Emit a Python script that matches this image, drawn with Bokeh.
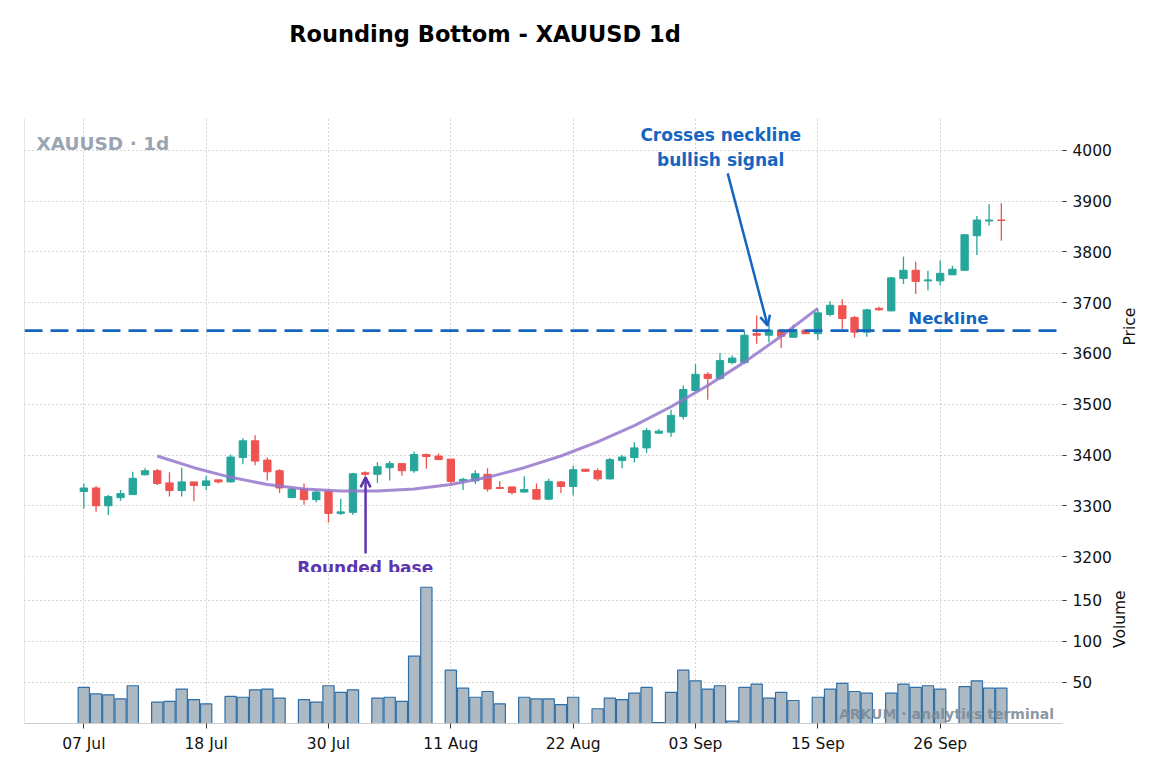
import math
from bokeh.plotting import figure
from bokeh.layouts import column
from bokeh.models import Span, Label, Arrow, OpenHead, FixedTicker, Range1d, Div
from bokeh.embed import file_html
from bokeh.resources import INLINE
from bokeh.core.properties import value

# daily candles, 6 bars per week (Sunday bar has ~no volume)
opens = [3328, 3335, 3300, 3316, 3322, 3361, 3369, 3345, 3330, 3347, 3340, 3351,
         3347, 3395, 3428, 3390, 3369, 3316, 3333, 3312, 3328, 3285, 3287, 3365,
         3362, 3375, 3383, 3369, 3401, 3398, 3392, 3349, 3349, 3362, 3336, 3337,
         3327, 3332, 3313, 3347, 3338, 3372, 3369, 3353, 3389, 3395, 3414, 3443,
         3445, 3476, 3527, 3559, 3551, 3582, 3582, 3639, 3636, 3646, 3632, 3646,
         3639, 3677, 3694, 3671, 3642, 3689, 3684, 3748, 3764, 3743, 3743, 3755,
         3764, 3832, 3861, 3863]
highs = [3344, 3339, 3321, 3331, 3367, 3374, 3373, 3366, 3375, 3347, 3359, 3351,
         3401, 3433, 3439, 3395, 3372, 3335, 3344, 3331, 3331, 3314, 3365, 3368,
         3386, 3388, 3384, 3407, 3403, 3403, 3392, 3355, 3370, 3374, 3349, 3338,
         3358, 3344, 3353, 3349, 3379, 3372, 3374, 3394, 3400, 3425, 3453, 3451,
         3489, 3537, 3579, 3563, 3601, 3596, 3644, 3675, 3659, 3647, 3657, 3646,
         3687, 3703, 3707, 3674, 3688, 3692, 3750, 3791, 3781, 3763, 3783, 3773,
         3835, 3871, 3894, 3896]
lows = [3294, 3288, 3282, 3310, 3322, 3360, 3341, 3318, 3318, 3309, 3331, 3344,
        3346, 3382, 3380, 3350, 3325, 3316, 3302, 3307, 3267, 3282, 3282, 3357,
        3345, 3350, 3359, 3365, 3373, 3390, 3343, 3331, 3343, 3328, 3333, 3322,
        3326, 3312, 3311, 3325, 3320, 3367, 3349, 3351, 3374, 3385, 3404, 3442,
        3436, 3470, 3525, 3509, 3548, 3579, 3579, 3619, 3622, 3611, 3631, 3638,
        3627, 3673, 3648, 3631, 3633, 3684, 3683, 3737, 3717, 3724, 3734, 3755,
        3764, 3794, 3852, 3822]
closes = [3335, 3300, 3318, 3324, 3354, 3369, 3344, 3330, 3347, 3340, 3349, 3347,
          3396, 3428, 3388, 3367, 3335, 3333, 3312, 3327, 3285, 3288, 3363, 3362,
          3377, 3383, 3369, 3401, 3397, 3391, 3348, 3352, 3363, 3333, 3334, 3326,
          3332, 3313, 3348, 3338, 3371, 3368, 3353, 3391, 3396, 3414, 3448, 3447,
          3478, 3529, 3559, 3551, 3586, 3591, 3636, 3636, 3646, 3634, 3647, 3639,
          3680, 3695, 3669, 3642, 3686, 3686, 3749, 3764, 3742, 3745, 3758, 3766,
          3834, 3863, 3863, 3862]
volumes = [44, 36, 35, 30, 46, 0, 26, 27, 42, 29, 24, 0,
           33, 32, 41, 42, 31, 0, 29, 26, 46, 38, 41, 0,
           31, 32, 27, 82, 166, 0, 65, 43, 32, 39, 24, 0,
           32, 30, 30, 23, 32, 0, 18, 31, 29, 37, 44, 1,
           38, 65, 52, 42, 46, 3, 44, 48, 31, 38, 28, 0,
           32, 42, 49, 39, 37, 0, 37, 48, 44, 46, 42, 0,
           45, 52, 43, 43]

tick_labels = ["07 Jul", "18 Jul", "30 Jul", "11 Aug", "22 Aug", "03 Sep", "15 Sep", "26 Sep"]
price_ticks = [3200, 3300, 3400, 3500, 3600, 3700, 3800, 3900, 4000]
volume_ticks = [50, 100, 150]

neckline = 3645
# fitted rounding curve
curve_x = [6, 9, 12, 15, 18, 21, 24, 27, 30, 33, 36, 39, 42, 45, 48, 51, 54, 57, 60]
curve_y = [3398, 3375, 3356, 3342, 3333, 3329, 3329, 3333, 3342, 3356, 3375, 3398,
           3426, 3458, 3495, 3537, 3583, 3634, 3689]

GREEN = "#26a69a"
RED = "#ef5350"
BLUE = "#1565c0"
PURPLE = "#5e35b1"
FONT = "DejaVu Sans"

n = len(opens)
idx = list(range(n))
colors = [GREEN if c >= o else RED for o, c in zip(opens, closes)]
body_top = [max(o, c) for o, c in zip(opens, closes)]
body_bot = [min(o, c) for o, c in zip(opens, closes)]
tick_pos = list(range(0, n, 10))[:len(tick_labels)]

x_lo, x_hi = -4.85, 80.0
p_lo, p_hi = 3168.5, 4063
xr = Range1d(x_lo, x_hi)


def style(fig):
    fig.outline_line_color = None
    fig.background_fill_color = "white"
    fig.border_fill_color = "white"
    fig.grid.grid_line_color = "#a8a8a8"
    fig.grid.grid_line_dash = "1 3"
    fig.grid.grid_line_width = 1
    fig.xgrid.ticker = FixedTicker(ticks=tick_pos)
    ax = fig.yaxis[0]
    ax.axis_line_color = None
    ax.major_tick_in = 0
    ax.major_tick_out = 4
    ax.major_tick_line_color = "#333333"
    ax.minor_tick_line_color = None
    ax.major_label_text_font = FONT
    ax.major_label_text_font_size = "15.5px"
    ax.major_label_text_color = "#111111"
    ax.major_label_standoff = 6
    ax.axis_label_text_font = FONT
    ax.axis_label_text_font_size = "15.5px"
    ax.axis_label_text_font_style = "normal"
    ax.axis_label_text_color = "#111111"
    ax.axis_label_standoff = 15
    ax.axis_label_orientation = math.pi / 2
    fig.add_layout(Span(location=x_lo, dimension="height", line_color="#cccccc", line_width=1))


# ---- title strip
title = Div(text="Rounding Bottom - XAUUSD 1d", width=960, height=60,
            styles={"font-family": FONT, "font-size": "22.5px", "font-weight": "bold",
                    "color": "black", "text-align": "center", "line-height": "26px",
                    "padding-top": "16px", "box-sizing": "border-box"})

# ---- price panel
p = figure(frame_width=1038, frame_height=454, x_range=xr, y_range=Range1d(p_lo, p_hi),
           output_backend="svg", toolbar_location=None, y_axis_location="right",
           x_axis_location=None, min_border_left=24, min_border_right=86,
           min_border_top=48, min_border_bottom=0)
style(p)
p.yaxis.ticker = FixedTicker(ticks=price_ticks)
p.yaxis.axis_label = "Price"
p.add_layout(Span(location=p_lo, dimension="width", line_color="#e6e6e6", line_width=1))

p.segment(idx, highs, idx, lows, color=colors, line_width=1.3)
p.vbar(x=idx, width=0.6, top=body_top, bottom=body_bot, fill_color=colors,
       line_color=colors, line_width=1)

p.add_layout(Span(location=neckline, dimension="width", line_color=BLUE,
                  line_width=2.8, line_dash="18 8"))
p.line(curve_x, curve_y, color="#9575cd", line_width=3, alpha=0.85)

p.text(x=[67.4], y=[3669], text=["Neckline"], text_align="left", text_baseline="middle",
       text_font=value(FONT), text_font_style="bold", text_font_size="16.5px", text_color=BLUE)
p.text(x=[52.06], y=[3962], text=["Crosses neckline\nbullish signal"], text_align="center",
       text_baseline="bottom", text_font=value(FONT), text_font_style="bold",
       text_font_size="17px", text_color=BLUE, text_line_height=1.22)
p.add_layout(Arrow(end=OpenHead(size=10, line_color=BLUE, line_width=2.5),
                   x_start=52.63, y_start=3955, x_end=55.9, y_end=3655,
                   line_color=BLUE, line_width=2.5))
p.text(x=[23.0], y=[3177], text=["Rounded base"], text_align="center", text_baseline="middle",
       text_font=value(FONT), text_font_style="bold", text_font_size="17px", text_color=PURPLE)
p.add_layout(Arrow(end=OpenHead(size=10, line_color=PURPLE, line_width=2.5),
                   x_start=23.03, y_start=3206, x_end=23.03, y_end=3356,
                   line_color=PURPLE, line_width=2.5))
p.add_layout(Label(x=-3.87, y=4014, text="XAUUSD · 1d", text_baseline="middle",
                   text_font=FONT, text_font_style="bold", text_font_size="18.5px",
                   text_color="#9aa5b1"))

# ---- volume panel
v = figure(frame_width=1038, frame_height=151, x_range=xr, y_range=Range1d(0, 184),
           output_backend="svg", toolbar_location=None, y_axis_location="right",
           min_border_left=24, min_border_right=86, min_border_top=0, min_border_bottom=10)
style(v)
v.yaxis.ticker = FixedTicker(ticks=volume_ticks)
v.yaxis.axis_label = "Volume"
v.vbar(x=idx, top=volumes, width=0.92, fill_color="#adbac4", line_color="#2e6fa7", line_width=1.2)

xa = v.xaxis[0]
xa.ticker = FixedTicker(ticks=tick_pos)
xa.major_label_overrides = {t: lab for t, lab in zip(tick_pos, tick_labels)}
xa.axis_line_color = "#cccccc"
xa.major_tick_in = 0
xa.major_tick_out = 5
xa.major_tick_line_color = "#333333"
xa.minor_tick_line_color = None
xa.major_label_text_font = FONT
xa.major_label_text_font_size = "15.5px"
xa.major_label_text_color = "#111111"
xa.major_label_standoff = 6

v.add_layout(Label(x=79.3, y=12, text="ARKUM · analytics terminal", text_align="right",
                   text_baseline="middle", text_font=FONT, text_font_style="bold",
                   text_font_size="14px", text_color="#7b8a97", text_alpha=0.9))

layout = column(title, p, v, spacing=0)
open("out.html", "w").write(file_html(layout, INLINE))
